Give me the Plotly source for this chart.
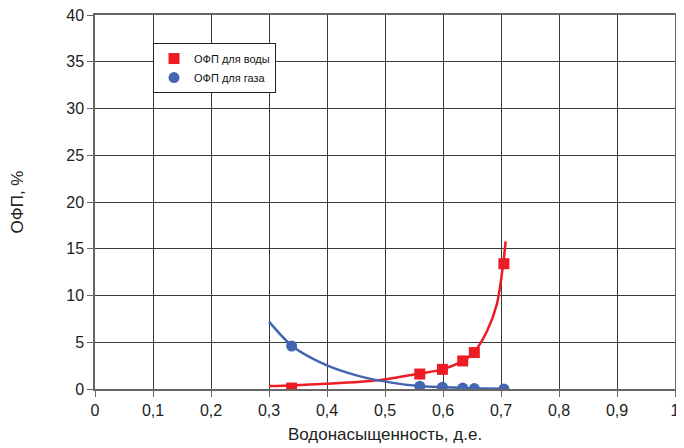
import plotly.graph_objects as go

# measured points
sw_points = [0.339, 0.560, 0.599, 0.634, 0.654, 0.705]
kr_water = [0.1, 1.6, 2.1, 3.0, 3.9, 13.4]
kr_gas = [4.6, 0.3, 0.2, 0.1, 0.05, 0.0]

# trend lines
water_curve_x = [0.300, 0.339, 0.400, 0.488, 0.559, 0.599, 0.634, 0.653, 0.676, 0.693, 0.704, 0.708]
water_curve_y = [0.32, 0.38, 0.55, 0.93, 1.64, 2.1, 3.0, 3.9, 6.2, 9.1, 13.5, 15.8]
gas_curve_x = [0.300, 0.340, 0.397, 0.454, 0.511, 0.559, 0.600, 0.650, 0.705]
gas_curve_y = [7.2, 4.6, 2.6, 1.4, 0.68, 0.32, 0.2, 0.08, 0.03]

x_ticks = [0, 0.1, 0.2, 0.3, 0.4, 0.5, 0.6, 0.7, 0.8, 0.9, 1]
x_tick_labels = ["0", "0,1", "0,2", "0,3", "0,4", "0,5", "0,6", "0,7", "0,8", "0,9", "1"]
y_ticks = [0, 5, 10, 15, 20, 25, 30, 35, 40]

RED = "#ED1C24"
BLUE = "#4466B0"

fig = go.Figure()
fig.add_trace(go.Scatter(x=water_curve_x, y=water_curve_y, mode="lines",
                         line=dict(color=RED, width=2.5, shape="spline", smoothing=0.8),
                         showlegend=False, hoverinfo="skip"))
fig.add_trace(go.Scatter(x=gas_curve_x, y=gas_curve_y, mode="lines",
                         line=dict(color=BLUE, width=2.5, shape="spline", smoothing=0.8),
                         showlegend=False, hoverinfo="skip"))
fig.add_trace(go.Scatter(x=sw_points, y=kr_water, mode="markers", name="ОФП для воды",
                         marker=dict(symbol="square", color=RED, size=11)))
fig.add_trace(go.Scatter(x=sw_points, y=kr_gas, mode="markers", name="ОФП для газа",
                         marker=dict(symbol="circle", color=BLUE, size=11)))

fig.update_layout(
    width=676, height=440,
    margin=dict(l=87, r=9, t=7, b=59, autoexpand=False),
    paper_bgcolor="white", plot_bgcolor="white",
    font=dict(family="Liberation Sans, Arial, sans-serif", size=16, color="#222"),
    legend=dict(x=0.1, y=0.925, xanchor="left", yanchor="top",
                bordercolor="#222", borderwidth=1, bgcolor="white",
                font=dict(size=11, color="#111"), itemwidth=30, tracegroupgap=0),
    xaxis=dict(range=[0, 1], tickvals=x_ticks, ticktext=x_tick_labels,
               showgrid=True, gridcolor="#3a3a3a", gridwidth=1,
               showline=True, linecolor="#666", linewidth=1.5, mirror=True,
               ticks="outside", ticklen=6, tickcolor="#666",
               zeroline=False, ticklabeloverflow="allow", automargin=False,
               title=dict(text="Водонасыщенность, д.е.", font=dict(size=17), standoff=10)),
    yaxis=dict(range=[0, 40], tickvals=y_ticks,
               showgrid=True, gridcolor="#3a3a3a", gridwidth=1,
               showline=True, linecolor="#666", linewidth=1.5, mirror=True,
               ticks="outside", ticklen=6, tickcolor="#666",
               zeroline=False, ticklabeloverflow="allow", automargin=False,
               title=dict(text="ОФП, %", font=dict(size=17), standoff=38)),
)

fig.write_html("out.html")
